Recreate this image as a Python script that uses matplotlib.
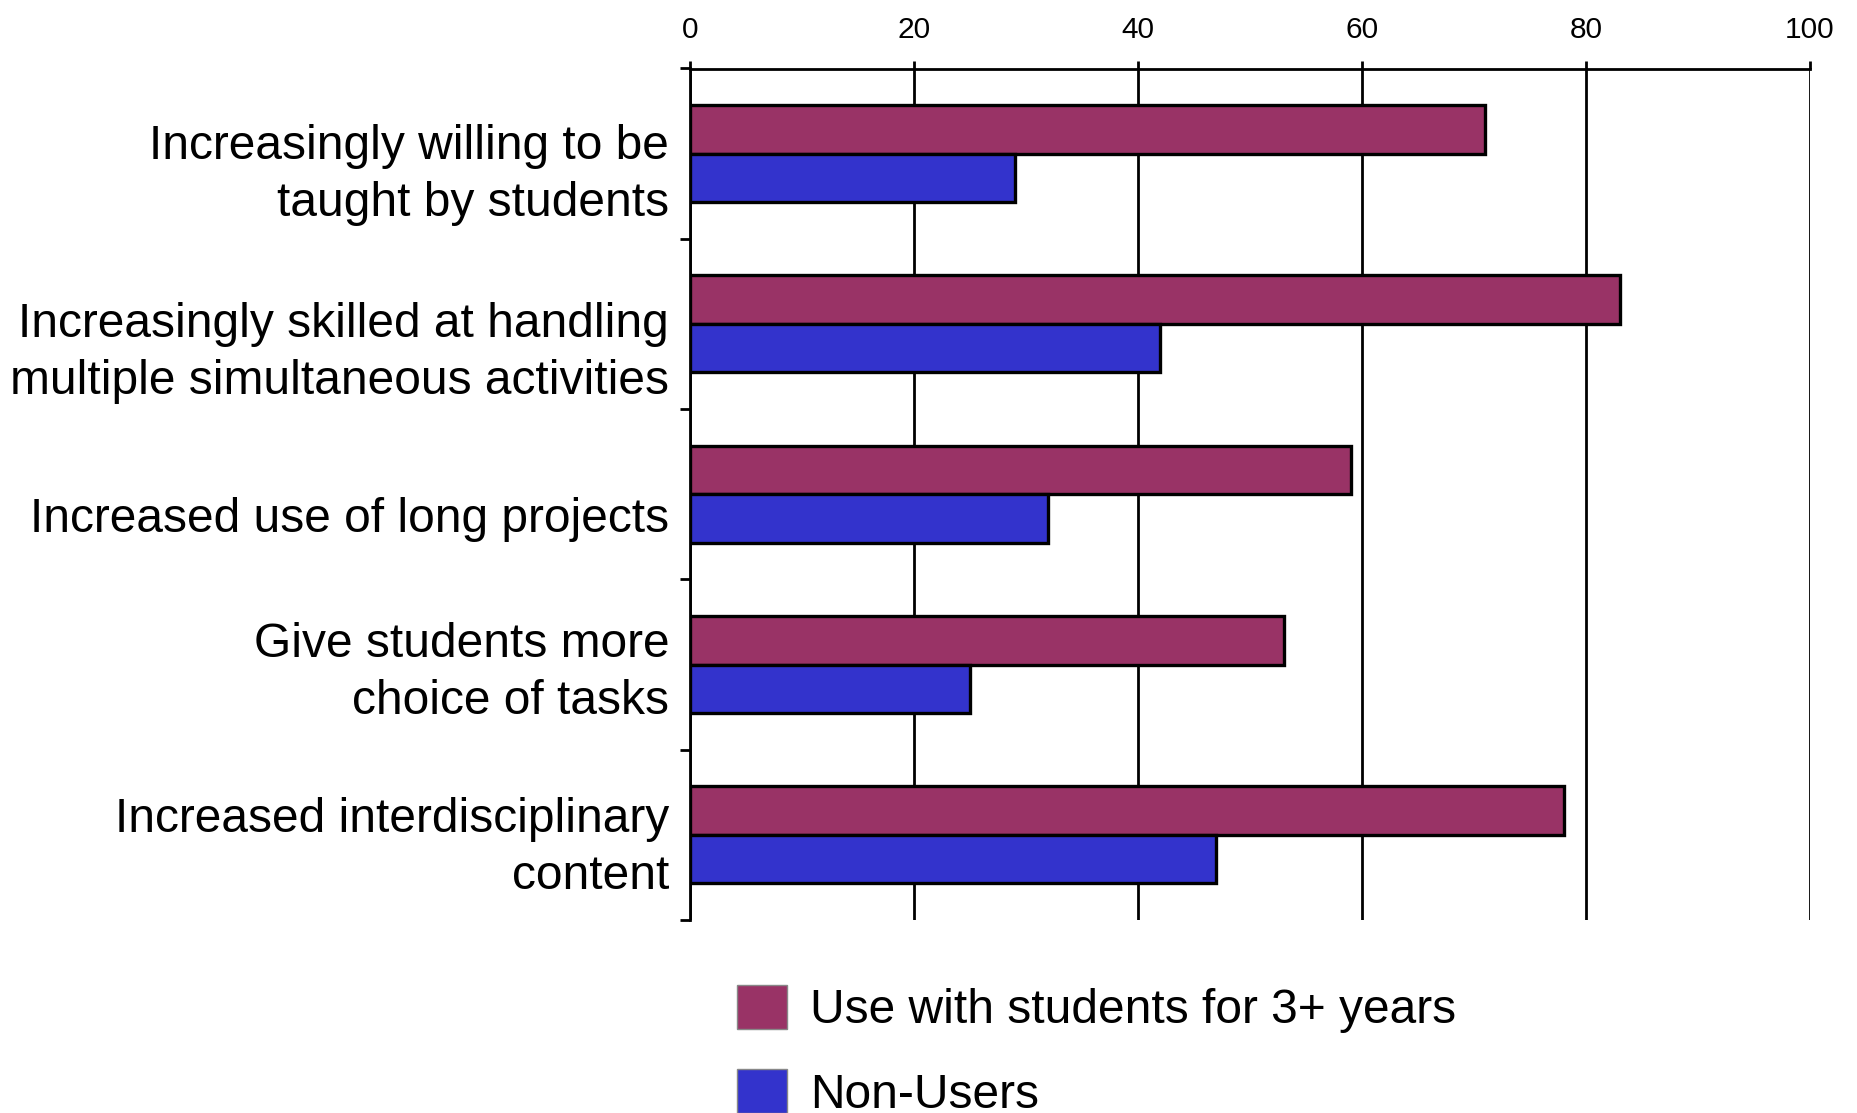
import matplotlib
matplotlib.use("Agg")
import matplotlib.pyplot as plt
import matplotlib.transforms as mtransforms
import numpy as np
from matplotlib.patches import Patch

categories = [
    "Increasingly willing to be\ntaught by students",
    "Increasingly skilled at handling\nmultiple simultaneous activities",
    "Increased use of long projects",
    "Give students more\nchoice of tasks",
    "Increased interdisciplinary\ncontent",
]
users_3plus = [71, 83, 59, 53, 78]
non_users = [29, 42, 32, 25, 47]
series_names = ["Use with students for 3+ years", "Non-Users"]
x_ticks = [0, 20, 40, 60, 80, 100]

plt.rcParams['font.family'] = ['Liberation Sans', 'DejaVu Sans']

W, H = 1857, 1113
fig = plt.figure(figsize=(W / 100, H / 100), dpi=100)
ax = fig.add_axes([690 / W, 1 - 920 / H, (1810 - 690) / W, (920 - 68.5) / H])

c1, c2 = "#993366", "#3333CC"
y = np.arange(len(categories))
bh = 0.285
ax.barh(y - bh / 2, users_3plus, height=bh, color=c1, edgecolor="black", linewidth=2.4, zorder=3)
ax.barh(y + bh / 2, non_users, height=bh, color=c2, edgecolor="black", linewidth=2.4, zorder=3)

ax.set_xlim(0, 100)
ax.set_ylim(len(categories) - 0.5, -0.5)
ax.xaxis.tick_top()
ax.set_xticks(x_ticks)
ax.set_xticklabels([str(v) for v in x_ticks], fontsize=21.5)
ax.tick_params(axis="x", direction="out", length=6, width=2, pad=12, colors="black")
ax.grid(axis="x", color="black", linewidth=2.0, zorder=1)

ax.set_yticks(y)
ax.set_yticklabels(categories, fontsize=34.5, linespacing=1.35)
ax.tick_params(axis="y", which="major", length=0, pad=15)
ax.set_yticks(np.arange(len(categories) + 1) - 0.5, minor=True)
ax.tick_params(axis="y", which="minor", length=7, width=2, direction="out")
label_shift_px = [10.5, 17.6, 20, -2.5, 2.2]
for lab, d in zip(ax.get_yticklabels(), label_shift_px):
    off = mtransforms.ScaledTranslation(0, -d / 100, fig.dpi_scale_trans)
    lab.set_transform(lab.get_transform() + off)

for s in ["right", "bottom"]:
    ax.spines[s].set_visible(False)
for s in ["left", "top"]:
    ax.spines[s].set_linewidth(2.0)
    ax.spines[s].set_color("black")

handles = [Patch(facecolor=c1, edgecolor="#888888", linewidth=1),
           Patch(facecolor=c2, edgecolor="#888888", linewidth=1)]
fig.legend(handles, series_names, loc="upper left",
           bbox_to_anchor=(737 / W, 1 - 985 / H), frameon=False,
           fontsize=34.5, handlelength=1.04, handleheight=1.04,
           handletextpad=0.48, labelspacing=0.75, borderpad=0, borderaxespad=0)

fig.savefig("out.png", dpi=100)
